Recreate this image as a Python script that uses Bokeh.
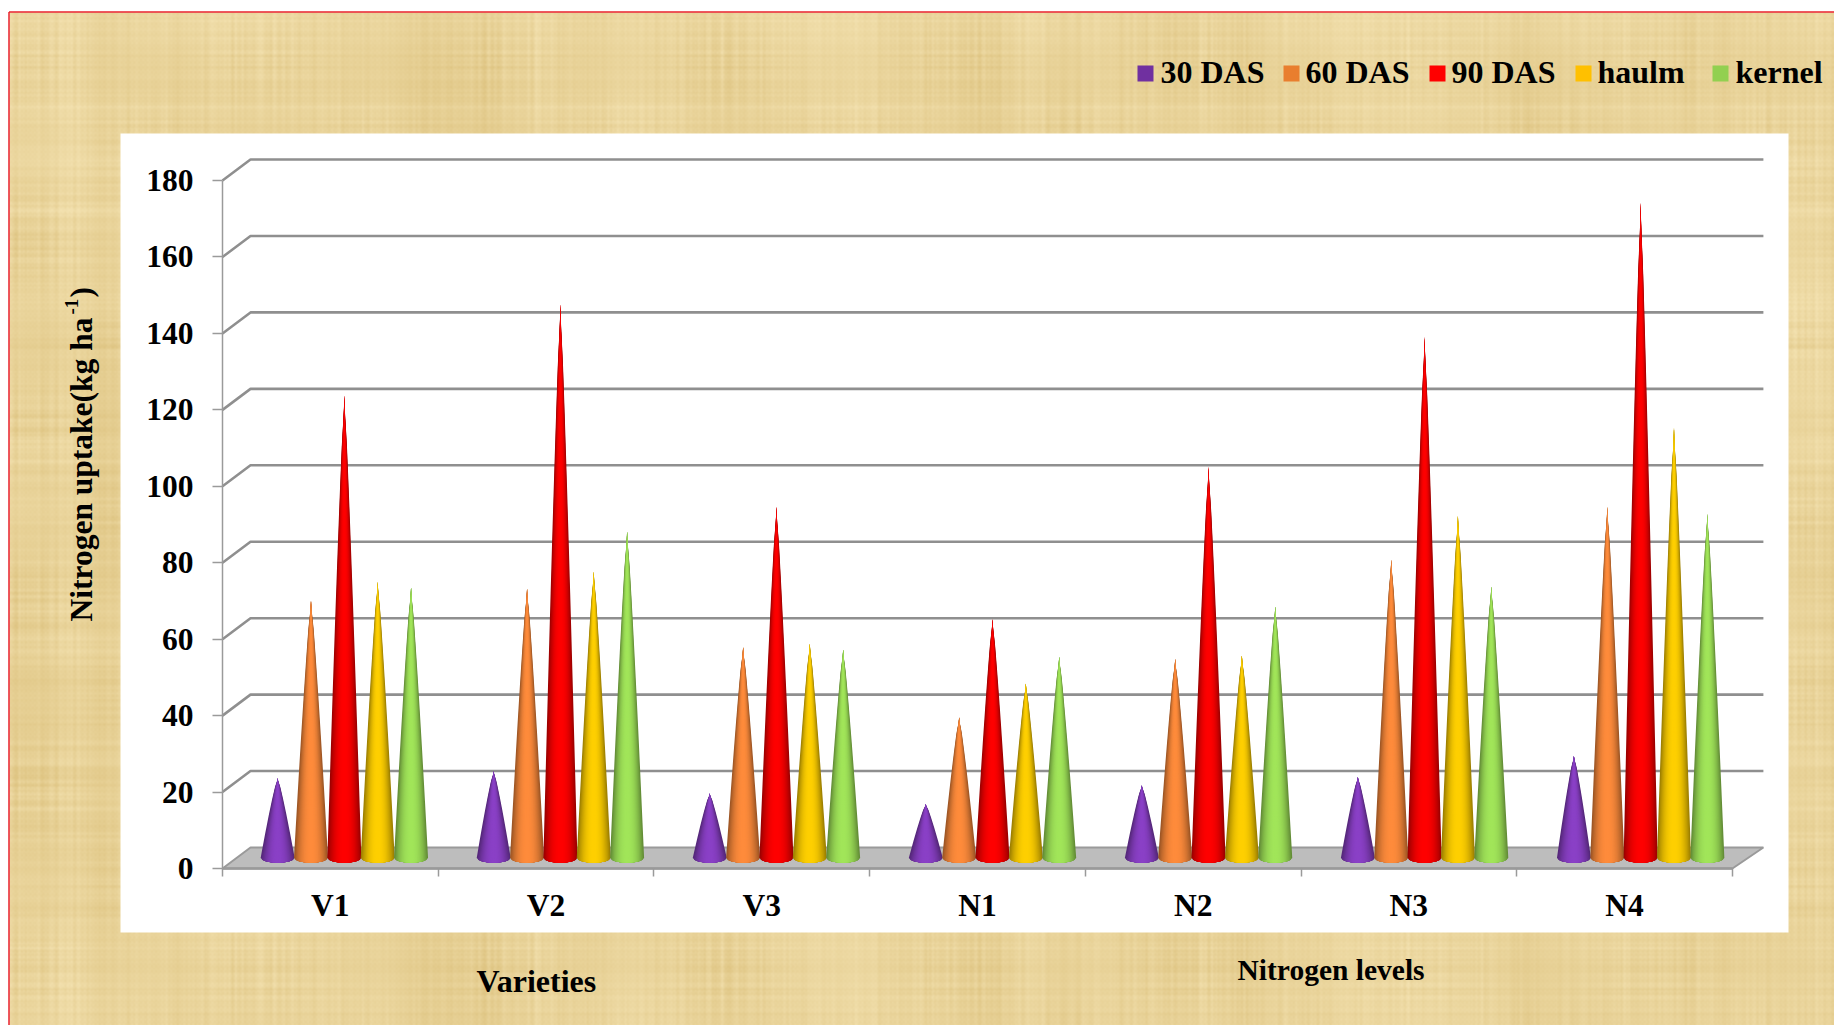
import numpy as np
from bokeh.core.properties import value
from bokeh.embed import file_html
from bokeh.models import ColumnDataSource, FixedTicker, LinearAxis, Range1d
from bokeh.plotting import figure
from bokeh.resources import INLINE

# Nitrogen uptake (kg/ha) per treatment
categories = ["V1", "V2", "V3", "N1", "N2", "N3", "N4"]
das_30 = [20.9, 22.7, 16.9, 14.1, 19.0, 21.2, 26.7]
das_60 = [67.4, 70.5, 55.2, 36.8, 52.1, 78.1, 91.9]
das_90 = [121.0, 144.9, 91.9, 62.5, 102.3, 136.3, 171.5]
haulm = [72.3, 75.0, 56.1, 45.7, 53.0, 89.5, 112.5]
kernel = [70.8, 85.5, 54.6, 52.7, 65.9, 71.1, 90.1]
y_ticks = [0, 20, 40, 60, 80, 100, 120, 140, 160, 180]

series_names = ["30 DAS", "60 DAS", "90 DAS", "haulm", "kernel"]
series_values = [das_30, das_60, das_90, haulm, kernel]
legend_colors = ["#7030A0", "#E97E2E", "#FF0000", "#FFC000", "#92D050"]
cone_colors = ["#8B41C7", "#FF8C3C", "#FF0000", "#FFD000", "#A2E65A"]

WIDTH, HEIGHT = 1834, 1025
X0_PX, Y0_PX = 222.0, 868.0   # where the front plane's origin sits on the page
UNIT_X = 215.7                # pixels per category
UNIT_Y = 3.822                # pixels per kg/ha


def px(x):
    return (np.asarray(x, dtype=float) - X0_PX) / UNIT_X


def py(y):
    return (Y0_PX - np.asarray(y, dtype=float)) / UNIT_Y


p = figure(
    width=WIDTH, height=HEIGHT, output_backend="svg", toolbar_location=None,
    x_range=Range1d(float(px(0)), float(px(WIDTH))),
    y_range=Range1d(float(py(HEIGHT)), float(py(0))),
    x_axis_location=None, y_axis_location=None,
    min_border=0, outline_line_color=None,
    background_fill_color="white", border_fill_color="white",
)
p.grid.visible = False


def fibre(n, seed, width):
    """Deterministic fibre profile built from a sine hash, smoothed over `width` samples."""
    idx = np.arange(n, dtype=float)
    h = np.sin(idx * 12.9898 + seed) * 43758.5453
    h = h - np.floor(h) - 0.5
    kernel_w = np.ones(width) / width
    return np.convolve(h, kernel_w, mode="same") * np.sqrt(width) * 2


def papyrus(w, h):
    xx, yy = np.meshgrid(np.arange(w, dtype=float), np.arange(h, dtype=float))
    # fine woven fibres, stronger in some patches than in others
    patch = 0.65 + 0.35 * np.sin(xx / 37.0 + 1.0) * np.sin(yy / 29.0)
    n = patch * (0.36 * fibre(w, 1.3, 3)[None, :] + 0.36 * fibre(h, 4.1, 3)[:, None])
    n = n + 0.12 * np.sin(xx * 1.45) * np.sin(yy * 1.3)
    # wider bands and soft blotches
    n = n + 0.18 * fibre(w, 2.2, 31)[None, :] + 0.18 * fibre(h, 7.7, 27)[:, None]
    n = n + 0.14 * np.sin(xx / 97.0 + yy / 151.0) + 0.12 * np.sin(xx / 43.0 - yy / 71.0 + 2.0)
    n = np.clip(n, -1, 1)
    r = 233 + 10 * n
    g = 211 + 14 * n
    b = 153 + 22 * n
    img = np.empty((h, w), dtype=np.uint32)
    view = img.view(dtype=np.uint8).reshape((h, w, 4))
    view[..., 0] = r.astype(np.uint8)
    view[..., 1] = g.astype(np.uint8)
    view[..., 2] = b.astype(np.uint8)
    view[..., 3] = 255
    return img[::-1]


# Page texture, its red edge and the white chart panel
bg_left, bg_top = 9, 12
tex = papyrus(WIDTH - bg_left, HEIGHT - bg_top)
p.image_rgba(image=[tex], x=float(px(bg_left)), y=float(py(HEIGHT)),
             dw=float(px(WIDTH) - px(bg_left)), dh=float(py(bg_top) - py(HEIGHT)), level="image")
p.segment(x0=[px(8.5), px(8.5)], y0=[py(11.5), py(11.5)], x1=[px(8.5), px(WIDTH)], y1=[py(HEIGHT), py(11.5)],
          line_color="#E8202A", line_width=1.5)
p.quad(left=[px(120)], right=[px(1788)], top=[py(133)], bottom=[py(932)], fill_color="white", line_color=None)

# Depth of the 3-D box, in data units
DEPTH_X = 28.0 / UNIT_X
DEPTH_Y = 21.0 / UNIT_Y
BACK_RIGHT = 7.0 + 31.0 / UNIT_X

# Floor of the box
p.patch(x=[0, 7, BACK_RIGHT, DEPTH_X], y=[0, 0, DEPTH_Y, DEPTH_Y],
        fill_color="#BDBDBD", line_color="#9A9A9A", line_width=2)

# Gridlines on the side and back walls
grid_xs = [[0, DEPTH_X, BACK_RIGHT] for v in y_ticks if v > 0]
grid_ys = [[v, v + DEPTH_Y, v + DEPTH_Y] for v in y_ticks if v > 0]
p.multi_line(xs=grid_xs, ys=grid_ys, line_color="#8F8F8F", line_width=2.6)

# Cones: nested silhouettes, darkest and widest first, give the horizontal shade
LAYERS = 14
LEVELS = 18
RADIUS = 17.0 / UNIT_X
BASE_EDGE = 4.6 / UNIT_Y
STEP = 33.35 / UNIT_X
GROUP_DRIFT = 0.35 / UNIT_X   # the cone rows run slightly wider than the axis divisions
MID_X = DEPTH_X / 2
MID_Y = DEPTH_Y / 2


def shade(hex_color, u):
    c = np.array([int(hex_color[i:i + 2], 16) for i in (1, 3, 5)], dtype=float)
    c = c * (1 - 0.38 * abs(u) ** 2.4)
    return "#%02x%02x%02x" % tuple(int(v) for v in c)


def cone_layers(center, height, color):
    xs, ys, cols = [], [], []
    ts = 1 - (1 - np.linspace(0, 1, LEVELS + 1)) ** 2
    profile = (1 - ts) ** 0.85 * (0.35 + 0.65 * np.clip((1 - ts) / 0.09, 0, 1))
    for w in np.linspace(1, 1 / LAYERS, LAYERS):
        # up the left side, across the top, down the right side, back along the base curve
        left_x = center - RADIUS * w * profile
        right_x = center + RADIUS * w * profile
        drop = BASE_EDGE * np.sqrt(1 - w * w) * (1 - ts)
        side_y = MID_Y + height * ts - drop
        us = np.linspace(w, -w, 15)
        base_x = center + RADIUS * us
        base_y = MID_Y - BASE_EDGE * np.sqrt(np.clip(1 - us * us, 0, 1))
        xs.append(np.concatenate([left_x, right_x[::-1], base_x]))
        ys.append(np.concatenate([side_y, side_y[::-1], base_y]))
        cols.append(shade(color, w))
    return xs, ys, cols


all_x, all_y, all_c = [], [], []
for g in range(len(categories)):
    for s, vals in enumerate(series_values):
        cx = g + 0.5 + MID_X + (s - 2) * STEP + g * GROUP_DRIFT
        sx, sy, sc = cone_layers(cx, vals[g], cone_colors[s])
        all_x += sx
        all_y += sy
        all_c += sc
cones = ColumnDataSource(dict(xs=all_x, ys=all_y, color=all_c))
p.patches("xs", "ys", source=cones, fill_color="color", line_color=None)

# Axes
serif = "Liberation Serif"
y_axis = LinearAxis(
    fixed_location=0, ticker=FixedTicker(ticks=y_ticks), bounds=(0, 180),
    axis_line_color="#9A9A9A", axis_line_width=1.5,
    major_tick_line_color="#9A9A9A", major_tick_line_width=1.5,
    major_tick_out=10, major_tick_in=0, minor_tick_line_color=None,
    major_label_text_font=serif, major_label_text_font_style="bold",
    major_label_text_font_size="31.5px", major_label_text_color="black",
    major_label_standoff=19,
)
p.add_layout(y_axis, "left")

x_axis = LinearAxis(
    fixed_location=0,
    ticker=FixedTicker(ticks=[i + 0.5 for i in range(7)], minor_ticks=list(range(8))),
    major_label_overrides={i + 0.5: c for i, c in enumerate(categories)},
    bounds=(0, 7),
    axis_line_color="#9A9A9A", axis_line_width=2.5,
    major_tick_line_color=None, major_tick_out=0, major_tick_in=0,
    minor_tick_line_color="#9A9A9A", minor_tick_line_width=1.5,
    minor_tick_out=8, minor_tick_in=0,
    major_label_text_font=serif, major_label_text_font_style="bold",
    major_label_text_font_size="31.5px", major_label_text_color="black",
    major_label_standoff=11,
)
p.add_layout(x_axis, "below")

# Legend row
legend_square_px = [1137, 1283, 1429, 1575, 1712]
legend_text_px = [1160, 1305, 1451, 1597, 1735]
p.scatter(x=px(np.array(legend_square_px) + 8), y=py([73] * 5), marker="square", size=16,
          fill_color=legend_colors, line_color=None)
p.text(x=px(legend_text_px), y=py([71.5] * 5), text=series_names,
       text_font=value(serif), text_font_style="bold", text_font_size="32px",
       text_color="black", text_baseline="alphabetic", text_align="left")

# Titles
p.text(x=[px(476)], y=[py(980.5)], text=["Varieties"], text_font=value(serif), text_font_style="bold",
       text_font_size="32px", text_color="black", text_baseline="alphabetic")
p.text(x=[px(1237)], y=[py(969)], text=["Nitrogen levels"], text_font=value(serif), text_font_style="bold",
       text_font_size="29.5px", text_color="black", text_baseline="alphabetic")
p.text(x=[px(81)], y=[py(621)], text=["Nitrogen uptake(kg ha"], angle=[np.pi / 2], text_font=value(serif),
       text_font_style="bold", text_font_size="31.5px", text_color="black", text_baseline="alphabetic")
p.text(x=[px(71)], y=[py(314)], text=["-1"], angle=[np.pi / 2], text_font=value(serif),
       text_font_style="bold", text_font_size="19px", text_color="black", text_baseline="alphabetic")
p.text(x=[px(81)], y=[py(297)], text=[")"], angle=[np.pi / 2], text_font=value(serif),
       text_font_style="bold", text_font_size="31.5px", text_color="black", text_baseline="alphabetic")

open("out.html", "w").write(file_html(p, INLINE))
